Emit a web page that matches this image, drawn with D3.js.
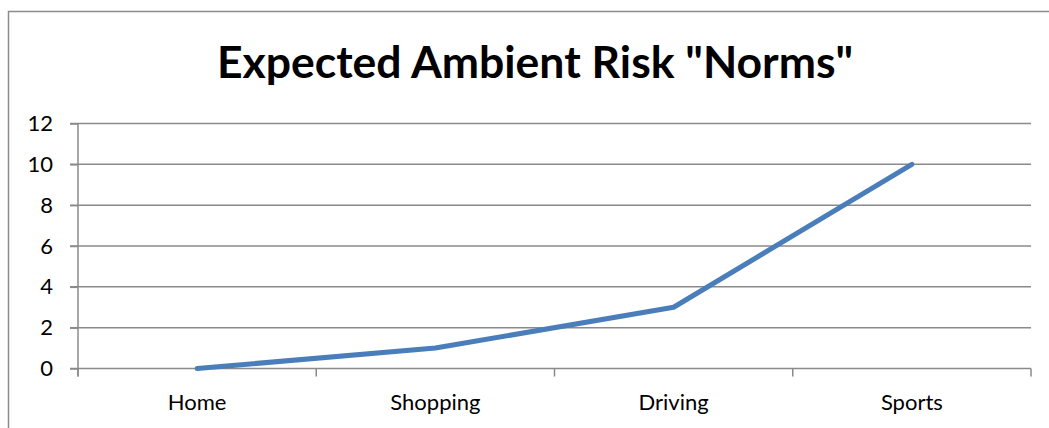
<!DOCTYPE html>
<html>
<head>
<meta charset="utf-8">
<script src="https://cdn.jsdelivr.net/npm/d3@7"></script>
<style>
  body { margin: 0; background: #fff; }
  svg { display: block; font-family: Lato, "Open Sans", sans-serif; }
</style>
</head>
<body>
<div id="chart"></div>
<script>
// data
const categories = ["Home", "Shopping", "Driving", "Sports"];
const riskValues = [0, 1, 3, 10];
const yTicks = [0, 2, 4, 6, 8, 10, 12];
const chartTitle = "Expected Ambient Risk \"Norms\"";

// frame
const FRAME_WIDTH = 1049;
const FRAME_HEIGHT = 428;
const PLOT = {left: 78, right: 1031, top: 123.5, bottom: 368.5};

const svg = d3.select("#chart")
    .append("svg")
    .attr("width", FRAME_WIDTH)
    .attr("height", FRAME_HEIGHT);

// outer chart border (right and bottom edges fall outside the picture)
svg.append("rect")
    .attr("x", 8.5)
    .attr("y", 11.5)
    .attr("width", 1100)
    .attr("height", 500)
    .attr("fill", "none")
    .attr("stroke", "#8c8c8c")
    .attr("stroke-width", 1.5);

// scales
const xScale = d3.scaleBand()
    .domain(categories)
    .range([PLOT.left, PLOT.right]);

const yScale = d3.scaleLinear()
    .domain([0, 12])
    .range([PLOT.bottom, PLOT.top]);

// gridlines
svg.append("g")
    .selectAll("line")
    .data(yTicks)
    .enter()
    .append("line")
    .attr("x1", PLOT.left - 8)
    .attr("x2", PLOT.right)
    .attr("y1", d => yScale(d))
    .attr("y2", d => yScale(d))
    .attr("stroke", "#8a8a8a")
    .attr("stroke-width", 1.5);

// y axis
const yAxis = svg.append("g")
    .attr("transform", "translate(" + PLOT.left + ",0)")
    .call(d3.axisLeft(yScale).tickValues(yTicks).tickSize(8).tickPadding(17));
yAxis.select(".domain").attr("stroke", "#8a8a8a").attr("stroke-width", 1.5)
    .attr("d", "M0," + yScale(12) + "V" + (yScale(0) + 8));
yAxis.selectAll(".tick line").attr("stroke", "#8a8a8a").attr("stroke-width", 1.5);
yAxis.selectAll("text").attr("font-size", 22).attr("fill", "#000")
    .attr("font-family", "Lato, sans-serif");

// x axis
const xAxis = svg.append("g")
    .attr("transform", "translate(0," + PLOT.bottom + ")")
    .call(d3.axisBottom(xScale).tickSize(0).tickPadding(26));
xAxis.select(".domain").remove();
xAxis.selectAll("text").attr("font-size", 22).attr("fill", "#000")
    .attr("font-family", "Lato, sans-serif");

// category boundary ticks
const boundaries = categories.map(c => xScale(c)).concat([PLOT.right]);
svg.append("g")
    .selectAll("line")
    .data(boundaries)
    .enter()
    .append("line")
    .attr("x1", d => d)
    .attr("x2", d => d)
    .attr("y1", PLOT.bottom)
    .attr("y2", PLOT.bottom + 8)
    .attr("stroke", "#8a8a8a")
    .attr("stroke-width", 1.5);

// the risk line
const line = d3.line()
    .x((d, i) => xScale(categories[i]) + xScale.bandwidth() / 2)
    .y(d => yScale(d));

svg.append("path")
    .datum(riskValues)
    .attr("d", line)
    .attr("fill", "none")
    .attr("stroke", "#4a7ebb")
    .attr("stroke-width", 5)
    .attr("stroke-linecap", "round")
    .attr("stroke-linejoin", "round");

// title
svg.append("text")
    .attr("x", 535)
    .attr("y", 78)
    .attr("text-anchor", "middle")
    .attr("font-size", 44.5)
    .attr("font-weight", "bold")
    .attr("fill", "#000")
    .text(chartTitle);
</script>
</body>
</html>
